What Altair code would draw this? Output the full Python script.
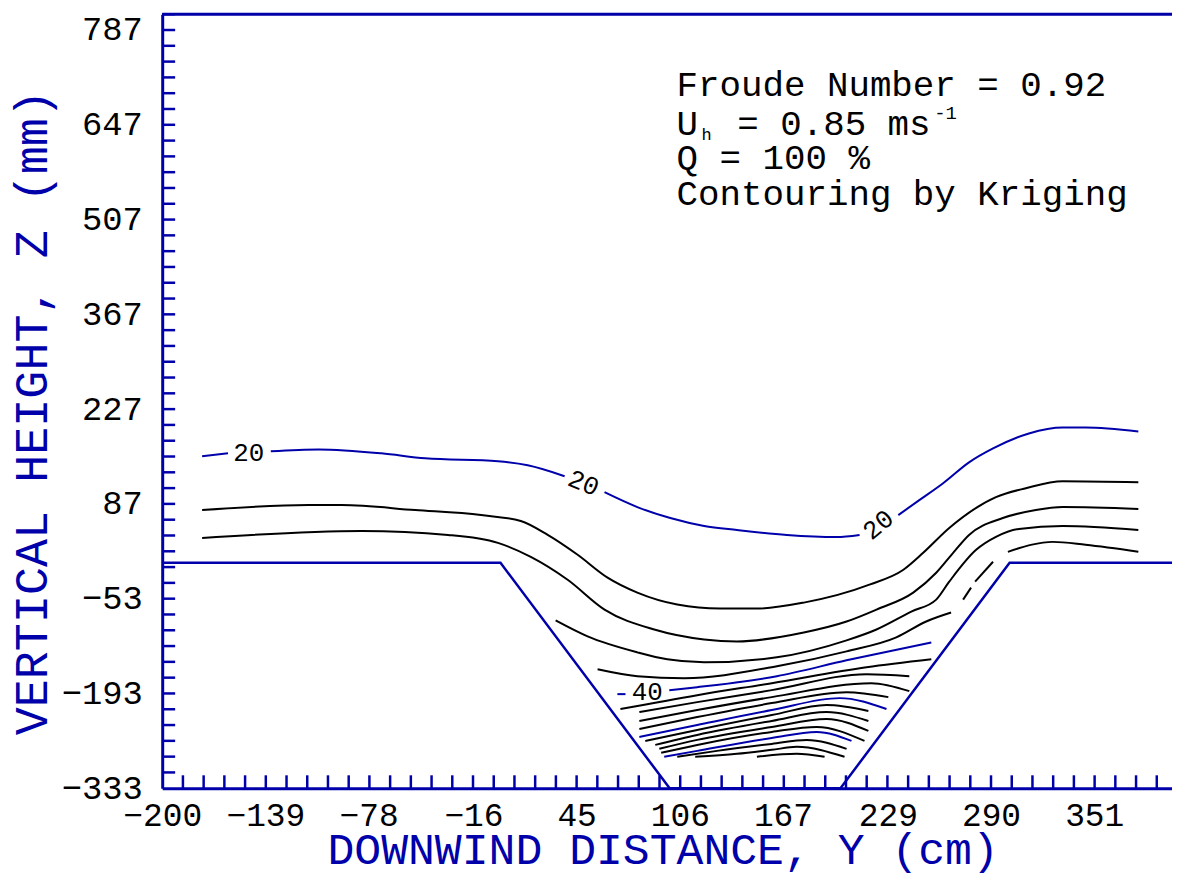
import altair as alt
import pandas as pd

BLUE = "#0000AA"
FONT = "Liberation Mono"

# ---------------- axis values ----------------
x_labels = [-200, -139, -78, -16, 45, 106, 167, 229, 290, 351]
y_labels = [-333, -193, -53, 87, 227, 367, 507, 647, 787]
X_MIN, X_MAX = -200, 397
Y_MIN, Y_MAX = -333, 810.33
x_minor = [-200 + 12.25 * k for k in range(1, 49)]
y_minor = [-333 + (140 / 6) * k for k in range(1, 50)]

# ---------------- terrain (valley) ----------------
terrain_x = [-200, 0, 100, 201, 301, 397]
terrain_y = [0, 0, -333, -333, 0, 0]

# ---------------- contours (segments of each level) ----------------
c20_x = [[-176.4, -161.1],
         [-135.8, -107.5, -70.4, -44.5, -1.5, 16.1, 37.9],
         [61.5, 80.9, 100.4, 120.4, 139.8, 169.3, 198.7, 212.3],
         [235.2, 247.6, 261.7, 277.0, 291.2, 312.4, 332.4, 345.9, 377.1]]
c20_y = [[157.3, 161.7],
         [164.6, 167.5, 161.7, 154.3, 149.9, 144.0, 127.9],
         [104.3, 82.3, 66.1, 54.4, 48.5, 41.2, 38.2, 41.2],
         [70.5, 92.6, 117.6, 148.4, 169.0, 191.1, 199.9, 199.9, 194.0]]

c24_x = [[-176.4, -113.4, -94.0, -50.4, -11.5, 12.0, 27.9, 45.6, 63.3, 80.9, 104.5, 129.8,
          151.6, 179.3, 218.1, 238.2, 249.9, 265.3, 292.9, 310.6, 332.4, 377.1]]
c24_y = [[77.9, 85.2, 85.2, 77.9, 70.5, 61.7, 41.2, 11.8, -22.0, -44.1, -61.7, -67.6,
          -67.6, -58.8, -32.3, -10.3, 14.7, 51.4, 97.0, 110.2, 120.5, 119.0]]

c28_x = [[-176.4, -82.2, -31.0, -1.5, 17.9, 39.7, 61.5, 90.9, 120.4, 139.8, 179.3, 204.6,
          222.3, 244.0, 257.6, 267.6, 277.0, 297.0, 316.5, 332.4, 377.1]]
c28_y = [[36.7, 47.0, 41.2, 29.4, 8.8, -25.0, -69.1, -98.5, -113.2, -116.1, -102.9, -86.7,
          -69.1, -44.1, -14.7, 14.7, 41.2, 66.1, 77.9, 82.3, 79.4]]

c32_x = [[32.6, 51.5, 80.9, 98.6, 120.4, 163.4, 204.6, 222.3, 242.9, 257.6, 265.3, 281.2,
          292.9, 306.5, 332.4, 377.1]]
c32_y = [[-85.2, -108.8, -132.3, -142.6, -147.0, -139.6, -114.6, -98.5, -72.0, -54.4, -27.9,
          19.1, 38.2, 50.0, 54.4, 48.5]]

c36_x = [[57.4, 80.9, 108.6, 163.4, 204.6, 234.0, 251.7, 266.4],
         [273.5, 278.2],
         [280.6, 291.2],
         [300.0, 313.5, 326.5, 345.9, 377.1]]
c36_y = [[-157.3, -167.5, -170.5, -152.8, -130.8, -110.2, -86.7, -73.5],
         [-54.4, -36.7],
         [-27.9, 1.5],
         [16.2, 26.5, 30.9, 26.5, 16.2]]

c40_x = [[69.1, 73.9],
         [99.8, 116.3, 163.4, 204.6, 254.7]]
c40_y = [[-194.0, -194.0],
         [-188.1, -183.7, -167.5, -144.0, -117.6]]

c44_x = [[70.9, 116.3, 160.4, 216.4, 254.7]]
c44_y = [[-216.0, -195.5, -177.8, -154.3, -142.6]]
c48_x = [[82.1, 116.3, 160.4, 216.4, 241.7]]
c48_y = [[-220.5, -205.8, -188.1, -164.6, -167.5]]
c52_x = [[82.1, 116.3, 160.4, 219.3, 241.7]]
c52_y = [[-233.7, -217.5, -198.4, -177.8, -189.6]]
c56_x = [[82.1, 116.3, 160.4, 204.6, 229.3]]
c56_y = [[-245.4, -227.8, -207.2, -191.1, -198.4]]
c60_x = [[82.1, 116.3, 160.4, 200.5, 228.2]]
c60_y = [[-257.2, -239.6, -217.5, -199.9, -216.0]]
c64_x = [[85.6, 116.3, 160.4, 192.8, 217.5]]
c64_y = [[-263.1, -246.9, -224.9, -210.2, -219.0]]
c68_x = [[91.5, 116.3, 160.4, 192.8, 217.5]]
c68_y = [[-269.0, -254.3, -233.7, -220.5, -233.7]]
c72_x = [[93.9, 116.3, 160.4, 192.8, 217.5]]
c72_y = [[-274.8, -261.6, -242.5, -230.7, -248.4]]
c76_x = [[95.0, 116.3, 160.4, 186.9, 215.2]]
c76_y = [[-280.7, -269.0, -249.8, -242.5, -263.1]]
c80_x = [[96.8, 116.3, 160.4, 186.9, 207.5]]
c80_y = [[-286.6, -277.8, -258.7, -249.8, -263.1]]
c84_x = [[104.5, 128.0, 160.4, 181.0, 204.6]]
c84_y = [[-286.6, -277.8, -267.5, -261.6, -274.8]]
c88_x = [[115.1, 139.8, 160.4, 175.1, 203.4]]
c88_y = [[-286.6, -282.2, -276.3, -271.9, -286.6]]
c92_x = [[151.6, 175.1, 191.6]]
c92_y = [[-286.6, -282.2, -286.6]]

# contour labels
label_text = ["20", "20", "20", "40"]
label_x = [-148.8, 49.1, 223.4, 86.8]
label_y = [161.7, 117.6, 55.9, -191.0]
label_angle = [0, 22, 320, 0]

# ---------------- build tables ----------------
contours = [
    (20, c20_x, c20_y), (24, c24_x, c24_y), (28, c28_x, c28_y), (32, c32_x, c32_y),
    (36, c36_x, c36_y), (40, c40_x, c40_y), (44, c44_x, c44_y), (48, c48_x, c48_y),
    (52, c52_x, c52_y), (56, c56_x, c56_y), (60, c60_x, c60_y), (64, c64_x, c64_y),
    (68, c68_x, c68_y), (72, c72_x, c72_y), (76, c76_x, c76_y), (80, c80_x, c80_y),
    (84, c84_x, c84_y), (88, c88_x, c88_y), (92, c92_x, c92_y),
]
rows = []
for lev, xsegs, ysegs in contours:
    for s, (xs_, ys_) in enumerate(zip(xsegs, ysegs)):
        for i, (xv, yv) in enumerate(zip(xs_, ys_)):
            rows.append({"x": xv, "y": yv, "seg": f"{lev}-{s}",
                         "kind": "blue" if lev % 20 == 0 else "black", "i": i})
cont_df = pd.DataFrame(rows)
terrain_df = pd.DataFrame({"x": terrain_x, "y": terrain_y, "i": range(len(terrain_x))})
xt_df = pd.DataFrame({"x": x_minor})
yt_df = pd.DataFrame({"y": y_minor})
lab_df = pd.DataFrame({"t": label_text, "x": label_x, "y": label_y, "a": label_angle})

W, H = 1015, 778
xs = alt.Scale(domain=[X_MIN, X_MAX], nice=False, zero=False)
ys = alt.Scale(domain=[Y_MIN, Y_MAX], nice=False, zero=False)

x_axis = alt.Axis(values=x_labels, ticks=False, tickSize=0, grid=False,
                  domainColor=BLUE, domainWidth=3,
                  labelFont=FONT, labelFontSize=33, labelColor="black", labelPadding=11,
                  labelFlush=False, labelOverlap=False,
                  title="DOWNWIND DISTANCE, Y (cm)", titleFont=FONT, titleFontSize=45,
                  titleFontWeight="normal", titleColor=BLUE,
                  titleX=503, titleY=76, titleBaseline="alphabetic", titleAlign="center")
y_axis = alt.Axis(values=y_labels, ticks=False, tickSize=0, grid=False,
                  domainColor=BLUE, domainWidth=3,
                  labelFont=FONT, labelFontSize=34, labelColor="black", labelPadding=20,
                  labelFlush=False, labelOverlap=False,
                  title="VERTICAL HEIGHT, Z (mm)", titleFont=FONT, titleFontSize=47,
                  titleFontWeight="normal", titleColor=BLUE, titleAngle=270,
                  titleX=-116, titleY=400, titleBaseline="alphabetic", titleAlign="center")

X = alt.X("x:Q", scale=xs, axis=x_axis)
Y = alt.Y("y:Q", scale=ys, axis=y_axis)

contour_layer = alt.Chart(cont_df).mark_line(strokeWidth=2, interpolate="monotone").encode(
    x=X, y=Y,
    color=alt.Color("kind:N", scale=alt.Scale(domain=["black", "blue"], range=["#000000", BLUE]),
                    legend=None),
    detail="seg:N",
    order="i:Q",
)

terrain_layer = alt.Chart(terrain_df).mark_line(color=BLUE, strokeWidth=2.5).encode(
    x=X, y=Y, order="i:Q")

ytick_layer = alt.Chart(yt_df).mark_rule(color=BLUE, strokeWidth=2.5).encode(
    y=Y, x=alt.value(0), x2=alt.value(13))
xtick_layer = alt.Chart(xt_df).mark_rule(color=BLUE, strokeWidth=2.5).encode(
    x=X, y=alt.value(H - 13), y2=alt.value(H))
top_frame = alt.Chart(pd.DataFrame({"a": [0]})).mark_rule(color=BLUE, strokeWidth=3).encode(
    y=alt.value(0), x=alt.value(0), x2=alt.value(W))

labels = alt.Chart(lab_df).mark_text(font=FONT, fontSize=26, color="black",
                                     align="center", baseline="middle").encode(
    x=X, y=Y, text="t:N", angle=alt.Angle("a:Q", scale=None))

ann = pd.DataFrame({"a": [0]})
def note(text, px, py, size=36):
    return alt.Chart(ann).mark_text(text=text, font=FONT, fontSize=size, color="black",
                                    align="left", baseline="alphabetic").encode(
        x=alt.value(px), y=alt.value(py))

notes = alt.layer(
    note("Froude Number = 0.92", 517, 82),
    note("U", 517, 121),
    note("h", 542, 126, 17),
    note("= 0.85 ms", 578, 121),
    note("-1", 776, 105, 19),
    note("Q = 100 %", 517, 156),
    note("Contouring by Kriging", 517, 192),
)

chart = alt.layer(
    contour_layer, terrain_layer, ytick_layer, xtick_layer, top_frame, labels, notes
).properties(
    width=W, height=H,
    autosize=alt.AutoSizeParams(type="none"),
    padding={"left": 155, "top": 4, "right": 0, "bottom": 92},
).configure_view(stroke=None).configure(background="white")

chart.save("out.html", embed_options={"renderer": "svg", "actions": False})
